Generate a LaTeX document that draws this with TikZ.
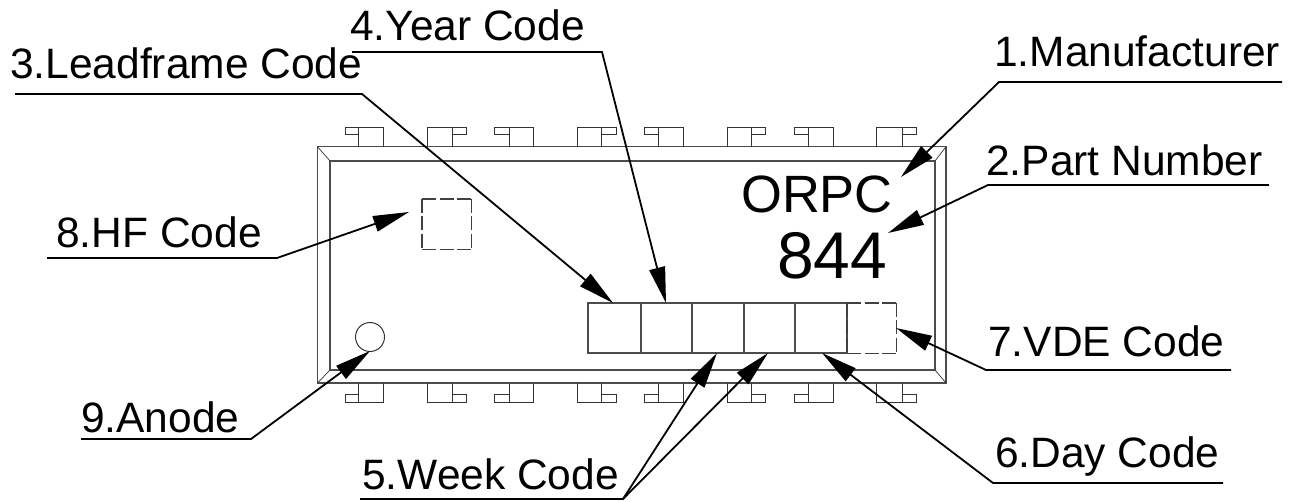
\documentclass[tikz,border=0pt]{standalone}
\usepackage{fontspec}
\setmainfont{Liberation Sans}
\usetikzlibrary{arrows.meta}
\tikzset{
  x=1pt,y=-1pt,
  pkg/.style={draw=black!70,line width=1.3pt},
  pinline/.style={draw=black!80,line width=1pt},
  dashside/.style={draw=black!75,line width=1.3pt,dash pattern=on 14pt off 3.5pt},
  boxnode/.style={inner sep=0pt,anchor=north west,minimum width=49pt,minimum height=50pt},
  leader/.style={draw=black,line width=1.8pt,-{Triangle[length=36pt,width=16pt]}},
  lab/.style={anchor=base west,inner sep=0pt,font=\fontsize{42.5}{42.5}\selectfont},
  marking/.style={inner sep=0pt,anchor=base west}
}
\newcommand{\pinT}[3]{\draw[pinline] (#1,146.7)--(#1,128)--(#2,128)--(#2,146.7) (#2,128)--(#3,128)--(#3,135)--(#2,135);}
\newcommand{\pinTL}[3]{\draw[pinline] (#2,146.7)--(#2,128)--(#3,128)--(#3,146.7) (#2,128)--(#1,128)--(#1,135)--(#2,135);}
\newcommand{\pinB}[3]{\draw[pinline] (#1,383)--(#1,402)--(#2,402)--(#2,383) (#2,402)--(#3,402)--(#3,394)--(#2,394);}
\newcommand{\pinBL}[3]{\draw[pinline] (#2,383)--(#2,402)--(#3,402)--(#3,383) (#2,402)--(#1,402)--(#1,394)--(#2,394);}
\newcommand{\dashsides}[1]{\draw[dashside] (#1.north west)--(#1.north east);\draw[dashside] (#1.north east)--(#1.south east);\draw[dashside] (#1.south west)--(#1.south east);\draw[dashside] (#1.north west)--(#1.south west);}
\begin{document}
\begin{tikzpicture}
\useasboundingbox (0,0) rectangle (1298,502);
% package
\draw[pkg] (317.5,146.7) rectangle (946,383);
\draw[pkg] (330,161) rectangle (935,370);
\draw[pinline,line width=.7pt] (317.5,146.7)--(330,161) (946,146.7)--(935,161) (317.5,383)--(330,370) (946,383)--(935,370);
% pins
\pinTL{345}{358}{383}\pinT{427}{452}{466}\pinTL{494}{509}{533}\pinT{577}{601}{616}
\pinTL{644}{658}{683}\pinT{727}{751}{765}\pinTL{794}{808}{833}\pinT{876}{902}{916}
\pinBL{345}{358}{383}\pinB{427}{452}{466}\pinBL{494}{509}{533}\pinB{577}{601}{616}
\pinBL{644}{658}{683}\pinB{727}{751}{765}\pinBL{794}{808}{833}\pinB{876}{902}{916}
% code boxes
\draw[pkg] (847,303)--(588,303)--(588,353)--(847,353);
\foreach \x in {641,692,744,795,847} \draw[pkg] (\x,303)--(\x,353);
\node[boxnode] (vde) at (847,303) {};
\node[boxnode] (hf) at (422,199) {};
\dashsides{vde}\dashsides{hf}
\node[circle,pinline,minimum size=29pt,inner sep=0pt] (anode) at (370,337) {};
% marking
\node[marking,font=\fontsize{52.5}{52.5}\selectfont] (orpc) at (741,213) {ORPC};
\node[marking,font=\fontsize{66}{66}\selectfont] (pn) at (777,279) {844};
% labels
\node[lab] (l1) at (994,67) {1.Manufacturer};
\node[lab] (l2) at (986,176) {2.Part Number};
\node[lab] (l3) at (10,79) {3.Leadframe Code};
\node[lab] (l4) at (350,41) {4.Year Code};
\node[lab] (l5) at (362,489) {5.Week Code};
\node[lab] (l6) at (995,467) {6.Day Code};
\node[lab] (l7) at (988,356) {7.VDE Code};
\node[lab] (l8) at (56,248) {8.HF Code};
\node[lab] (l9) at (81,432) {9.Anode};
% leader points
\coordinate (a1) at (1282,82); \coordinate (b1) at (999,82); \coordinate (t1) at (901,177);
\coordinate (a2) at (1269,185); \coordinate (b2) at (988,185); \coordinate (t2) at (888,233);
\coordinate (a3) at (15,94); \coordinate (b3) at (362,94); \coordinate (t3) at (613,303);
\coordinate (a4) at (352,52); \coordinate (b4) at (602,52); \coordinate (t4) at (666,303);
\coordinate (a5) at (360,499); \coordinate (b5) at (623,499); \coordinate (t5) at (717,353); \coordinate (t5b) at (768,353);
\coordinate (a6) at (1223,483); \coordinate (b6) at (993,483); \coordinate (t6) at (822,353);
\coordinate (a7) at (1231,370); \coordinate (b7) at (986,370); \coordinate (t7) at (896,328);
\coordinate (a8) at (47,258); \coordinate (b8) at (277,258); \coordinate (t8) at (409,212);
\coordinate (a9) at (81,439); \coordinate (b9) at (251,439); \coordinate (t9) at (370,351);
\foreach \i in {1,2,3,4,5,6,7,8,9} \draw[leader] (a\i)--(b\i)--(t\i);
\draw[leader] (b5)--(t5b);
\end{tikzpicture}
\end{document}
